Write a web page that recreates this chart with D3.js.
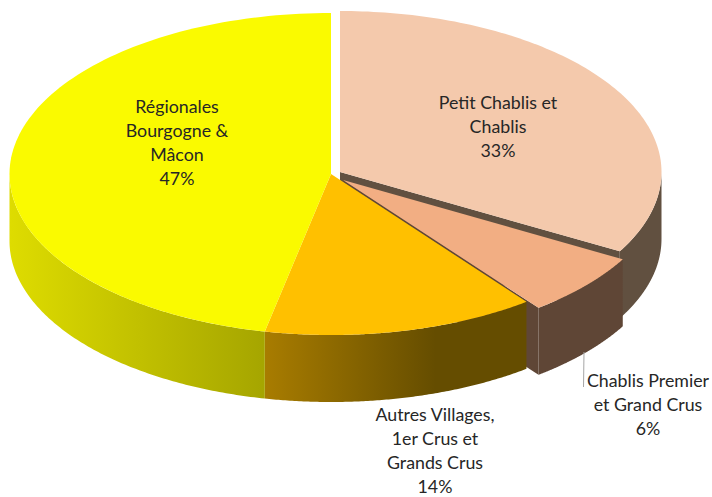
<!DOCTYPE html>
<html><head><meta charset="utf-8">
<script src="https://cdnjs.cloudflare.com/ajax/libs/d3/7.8.5/d3.min.js"></script>
<style>html,body{margin:0;padding:0;background:#fff}svg{display:block}text{font-family:Lato,"Open Sans",sans-serif;font-size:17.8px;fill:#262626;text-anchor:middle}</style>
</head><body><svg id="c" width="712" height="497"></svg>
<script>
const categories=["Petit Chablis et Chablis","Chablis Premier et Grand Crus","Autres Villages, 1er Crus et Grands Crus","Régionales Bourgogne & Mâcon"];
const shares=[33.2,6.4,13.7,46.7];
const labelLines=[["Petit Chablis et","Chablis"],["Chablis Premier","et Grand Crus"],["Autres Villages,","1er Crus et","Grands Crus"],["Régionales","Bourgogne &","Mâcon"]];
const labelPercents=["33%","6%","14%","47%"];
const topColors=["#F4C9AC","#F2AE83","#FFC000","#FAFA00"];
const wallStops=[[["0","#615040"],["1","#615040"]],[["0","#5F4636"],["1","#5F4636"]],[["0","#A87C00"],["0.65","#654D00"],["1","#654D00"]],[["0","#DEDC00"],["1","#A5A500"]]];
const wallExtents=[[340,662],[527,621],[266,527],[10,266]];
const sideColors=["#615040","#5F4636"];
const centers=[[340,172],[343,180],[331,174],[331,174]];
const labelAt=[[498,103],[648,381],[435,415.5],[177,107]];
const rx=321.5,ry=161,depth=67;
const svg=d3.select("#c");
const defs=svg.append("defs");
const pie=d3.pie().sort(null).startAngle(0).endAngle(2*Math.PI);
const arcs=pie(shares);
const line=d3.line();
const pt=(c,a,dy=0)=>[c[0]+rx*Math.sin(a),c[1]-ry*Math.cos(a)+dy];
const samp=(c,a0,a1,dy=0)=>d3.range(0,121).map(i=>pt(c,a0+(a1-a0)*i/120,dy));
wallStops.forEach((st,i)=>{
 const g=defs.append("linearGradient").attr("id","w"+i).attr("gradientUnits","userSpaceOnUse")
  .attr("x1",wallExtents[i][0]).attr("x2",wallExtents[i][1]).attr("y1",0).attr("y2",0);
 st.forEach(s=>g.append("stop").attr("offset",s[0]).attr("stop-color",s[1]));
});
arcs.forEach((d,i)=>{
 const c=centers[i],g=svg.append("g");
 const a0=d.startAngle,a1=d.endAngle;
 const w0=Math.max(a0,Math.PI/2),w1=Math.min(a1,Math.PI*1.5);
 if(i<2){
  g.append("path").attr("d",line([c,pt(c,a1),pt(c,a1,depth),[c[0],c[1]+depth]])+"Z").attr("fill",sideColors[i]);
 }
 g.append("path").attr("d",line([...samp(c,w0,w1),...samp(c,w1,w0,depth)])+"Z").attr("fill",`url(#w${i})`);
 g.append("path").attr("d",line([c,...samp(c,a0,a1)])+"Z").attr("fill",topColors[i]);
});
const leaderX=d3.scaleLinear().domain([0,1]).range([584,583.5]);
svg.append("line").attr("x1",leaderX(0)).attr("x2",leaderX(1)).attr("y1",352).attr("y2",387).attr("stroke","#A6A6A6").attr("stroke-width",1);
arcs.forEach((d,i)=>{
 const t=svg.append("text").attr("x",labelAt[i][0]).attr("y",labelAt[i][1]+5.5);
 [...labelLines[i],labelPercents[i]].forEach((s,j)=>t.append("tspan").attr("x",labelAt[i][0]).attr("dy",j?24:0).text(s));
});
</script></body></html>
